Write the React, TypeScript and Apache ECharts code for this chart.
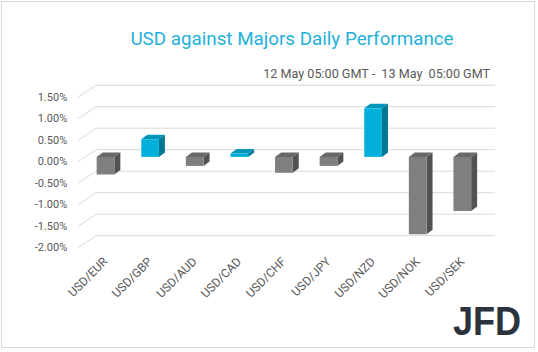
import React, { useEffect, useRef } from "react";
import * as echarts from "echarts";

const categories = ["USD/EUR", "USD/GBP", "USD/AUD", "USD/CAD", "USD/CHF", "USD/JPY", "USD/NZD", "USD/NOK", "USD/SEK"];
const performance = [-0.41, 0.41, -0.21, 0.08, -0.37, -0.21, 1.13, -1.8, -1.26];
const yTicks = [-2, -1.5, -1, -0.5, 0, 0.5, 1, 1.5];
const titleText = "USD against Majors Daily Performance";
const subtitleText = "12 May 05:00 GMT -  13 May  05:00 GMT";
const logoText = "JFD";

const BAR_W = 17.7;
const DEPTH_X = 6;
const DEPTH_Y = -4.5;
const BAR_SHIFT = -4.6;
const WALL_DX = 18;
const WALL_DY = -11.8;

export default function App() {
  const ref = useRef<HTMLDivElement>(null);
  useEffect(() => {
    if (!ref.current) return;
    const chart = echarts.init(ref.current, null, { renderer: "svg" });
    const option: any = {
      animation: false,
      backgroundColor: "#ffffff",
      grid: { left: 83.2, top: 97, width: 401.4, height: 150.5, containLabel: false },
      xAxis: {
        type: "category",
        data: categories,
        boundaryGap: true,
        axisLine: { show: false },
        axisTick: { show: false },
        axisLabel: {
          rotate: 45,
          interval: 0,
          margin: 12,
          color: "#595959",
          fontSize: 12,
          fontFamily: "Roboto",
        },
      },
      yAxis: {
        type: "value",
        min: -2,
        max: 1.5,
        interval: 0.5,
        axisLine: { show: false },
        axisTick: { show: false },
        splitLine: { show: false },
        axisLabel: {
          margin: 16,
          color: "#595959",
          fontSize: 11,
          fontFamily: "Roboto",
          formatter: (v: number) => v.toFixed(2) + "%",
        },
      },
      series: [
        {
          type: "custom",
          silent: true,
          z: 1,
          data: yTicks.map((t) => [0, t]),
          renderItem: (params: any, api: any) => {
            const cs = params.coordSys;
            const p = api.coord([0, api.value(1)]);
            const y = p[1];
            return {
              type: "polyline",
              shape: {
                points: [
                  [cs.x - 5, y],
                  [cs.x - 5 + WALL_DX, y + WALL_DY],
                  [cs.x + cs.width + 10.5, y + WALL_DY],
                ],
              },
              style: { stroke: "#d9d9d9", lineWidth: 1, fill: "none" },
            };
          },
        },
        {
          type: "custom",
          silent: true,
          z: 2,
          data: performance.map((v, i) => [i, v]),
          renderItem: (params: any, api: any) => {
            const v = api.value(1);
            const p0 = api.coord([api.value(0), 0]);
            const p1 = api.coord([api.value(0), v]);
            const cx = p0[0];
            const y0 = p0[1] + BAR_SHIFT;
            const y1 = p1[1] + BAR_SHIFT;
            const top = Math.min(y0, y1);
            const bottom = Math.max(y0, y1);
            const left = cx - BAR_W / 2;
            const right = cx + BAR_W / 2;
            const pos = v >= 0;
            const front = pos ? "#00b0da" : "#7f7f7f";
            const side = pos ? "#007891" : "#525252";
            const topc = pos ? "#0096ba" : "#686868";
            return {
              type: "group",
              children: [
                {
                  type: "polygon",
                  shape: {
                    points: [
                      [right, top],
                      [right + DEPTH_X, top + DEPTH_Y],
                      [right + DEPTH_X, bottom + DEPTH_Y],
                      [right, bottom],
                    ],
                  },
                  style: { fill: side },
                },
                {
                  type: "polygon",
                  shape: {
                    points: [
                      [left, top],
                      [left + DEPTH_X, top + DEPTH_Y],
                      [right + DEPTH_X, top + DEPTH_Y],
                      [right, top],
                    ],
                  },
                  style: { fill: topc },
                },
                {
                  type: "rect",
                  shape: { x: left, y: top, width: BAR_W, height: bottom - top },
                  style: { fill: front },
                },
              ],
            };
          },
        },
      ],
      graphic: [
        {
          type: "rect",
          silent: true,
          shape: { x: 1.5, y: 1.5, width: 533, height: 346 },
          style: { fill: "none", stroke: "#d9d9d9", lineWidth: 1 },
        },
        {
          type: "text",
          x: 292,
          y: 39,
          style: {
            text: titleText,
            fill: "#1fb0da",
            fontSize: 18.8,
            fontFamily: "Roboto",
            align: "center",
            verticalAlign: "middle",
          },
        },
        {
          type: "text",
          x: 490,
          y: 73,
          style: {
            text: subtitleText,
            fill: "#595959",
            fontSize: 12.6,
            fontFamily: "Roboto",
            align: "right",
            verticalAlign: "middle",
          },
        },
        {
          type: "text",
          x: 453,
          y: 321,
          scaleX: 0.88,
          style: {
            text: logoText,
            fill: "#2b333d",
            fontSize: 41,
            fontWeight: "bold",
            fontFamily: "Liberation Sans",
            align: "left",
            verticalAlign: "middle",
          },
        },
      ],
    };
    chart.setOption(option);
    return () => chart.dispose();
  }, []);
  return (
    <div
      ref={ref}
      style={{ position: "fixed", left: 0, top: 0, width: 538, height: 352, background: "#fff" }}
    />
  );
}
